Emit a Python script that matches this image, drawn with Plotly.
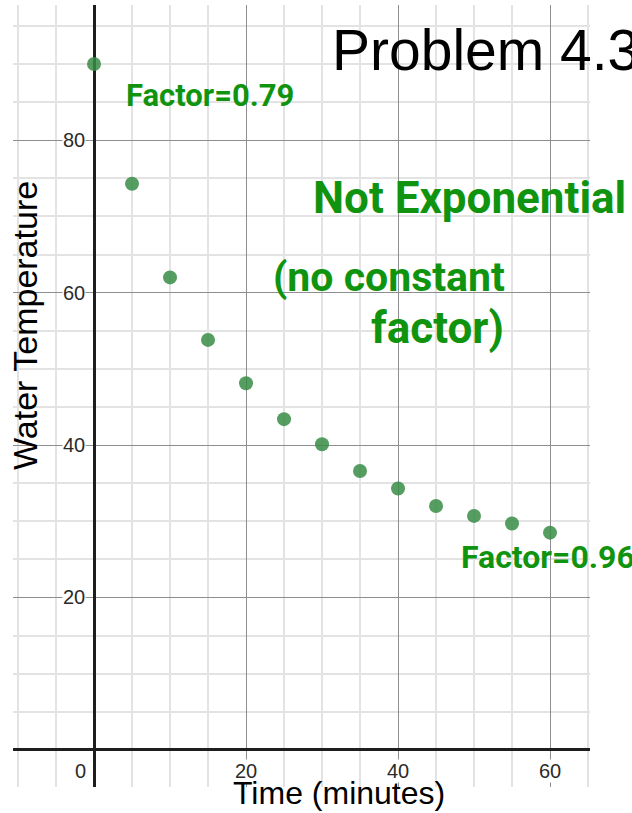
import plotly.graph_objects as go

# Data
time_min = [0, 5, 10, 15, 20, 25, 30, 35, 40, 45, 50, 55, 60]
water_temp = [90.0, 74.3, 62.0, 53.8, 48.1, 43.4, 40.1, 36.6, 34.3, 32.0, 30.7, 29.7, 28.5]

x_tick_vals = [20, 40, 60]
y_tick_vals = [20, 40, 60, 80]
origin_label = "0"

title_text = "Problem 4.3"
x_title = "Time (minutes)"
y_title = "Water Temperature"

notes = [
    ("Factor=0.79", 210, 96, 31),
    ("Not Exponential", 469, 198, 44),
    ("(no constant", 389, 277, 41),
    ("factor)", 437, 328, 44),
    ("Factor=0.96", 548, 557, 32),
]

W, H = 632, 813
ML, MR, MT, MB = 13, 42, 5, 26
PW, PH = W - ML - MR, H - MT - MB


def px_to_paper(px, py):
    return (px - ML) / PW, (H - MB - py) / PH


fig = go.Figure()
fig.add_trace(go.Scatter(
    x=time_min, y=water_temp, mode="markers",
    marker=dict(size=14, color="#388c46", opacity=0.85, line=dict(width=0)),
    showlegend=False, hoverinfo="skip",
))

axis_common = dict(
    dtick=20, tick0=0, showgrid=True, gridcolor="#8e8e8e", gridwidth=1.2,
    zeroline=True, zerolinecolor="#1e1e1e", zerolinewidth=2.5,
    showticklabels=False, ticks="", showline=False,
    minor=dict(dtick=5, tick0=0, showgrid=True, gridcolor="#e3e3e3", gridwidth=1.6),
)

fig.update_layout(
    width=W, height=H,
    margin=dict(l=ML, r=MR, t=MT, b=MB),
    paper_bgcolor="white", plot_bgcolor="white",
    xaxis=dict(range=[-10.66, 65.26], **axis_common),
    yaxis=dict(range=[-4.88, 97.75], **axis_common),
    font=dict(family="Liberation Sans, Arial, sans-serif"),
)

tick_font = dict(family="Liberation Sans, Arial, sans-serif", size=20, color="#2b2b2b")
for v in y_tick_vals:
    fig.add_annotation(x=0, y=v, xref="x", yref="y", text=str(v), showarrow=False,
                       xanchor="right", yanchor="middle", xshift=-8, font=tick_font,
                       bgcolor="white", borderpad=0)
for v in x_tick_vals:
    fig.add_annotation(x=v, y=0, xref="x", yref="y", text=str(v), showarrow=False,
                       xanchor="center", yanchor="top", yshift=-9, font=tick_font,
                       bgcolor="white", borderpad=0)
fig.add_annotation(x=0, y=0, xref="x", yref="y", text=origin_label, showarrow=False,
                   xanchor="right", yanchor="top", xshift=-7, yshift=-9, font=tick_font,
                   bgcolor="white", borderpad=0)

# Title
tx, ty = px_to_paper(330, 50)
fig.add_annotation(x=tx, y=ty, xref="paper", yref="paper", text=title_text, showarrow=False,
                   xanchor="left", yanchor="middle",
                   font=dict(family="Liberation Sans, Arial, sans-serif", size=57, color="black"))

# Axis titles
ax, ay = px_to_paper(339, 793)
fig.add_annotation(x=ax, y=ay, xref="paper", yref="paper", text=x_title, showarrow=False,
                   xanchor="center", yanchor="middle",
                   font=dict(family="Liberation Sans, Arial, sans-serif", size=32, color="black"))
bx, by = px_to_paper(25, 326)
fig.add_annotation(x=bx, y=by, xref="paper", yref="paper", text=y_title, showarrow=False,
                   xanchor="center", yanchor="middle", textangle=-90,
                   font=dict(family="Liberation Sans, Arial, sans-serif", size=34, color="black"))

# Handwritten notes
for text, px, py, size in notes:
    nx, ny = px_to_paper(px, py)
    fig.add_annotation(x=nx, y=ny, xref="paper", yref="paper", text=text, showarrow=False,
                       xanchor="center", yanchor="middle",
                       font=dict(family="Roboto, DejaVu Sans, sans-serif",
                                 size=size, color="#109410", weight="bold"))

fig.write_html(
    "out.html",
    config={"displayModeBar": False},
    post_script="document.body.style.margin='0';document.body.style.overflow='hidden';",
)
